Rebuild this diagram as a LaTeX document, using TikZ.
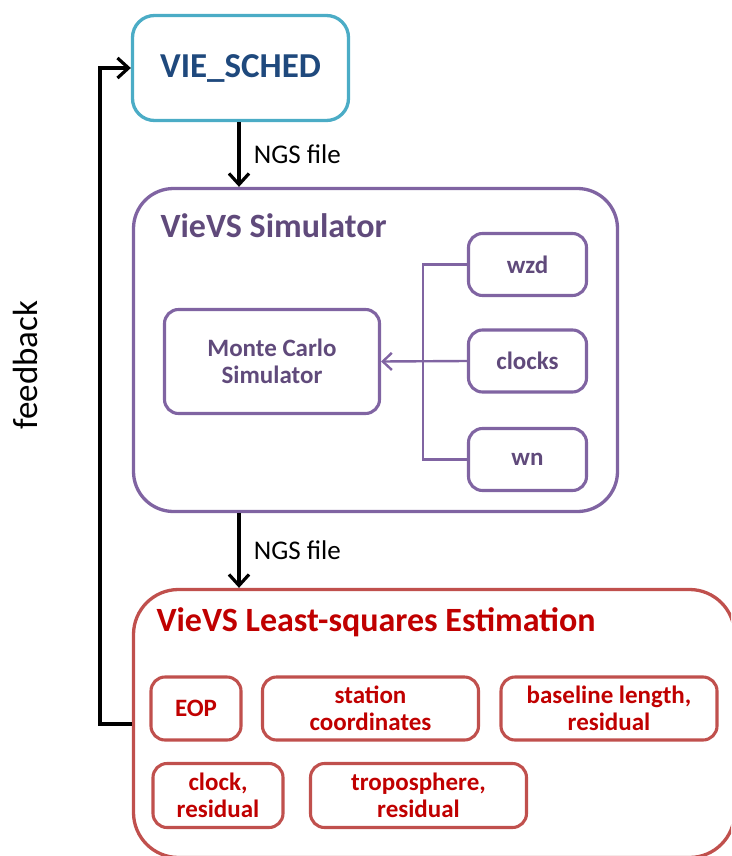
\documentclass[tikz,border=0pt]{standalone}
\usepackage{fontspec}
\setmainfont{Carlito}
\usetikzlibrary{arrows.meta,positioning,calc}

\definecolor{schedline}{RGB}{75,172,198}
\definecolor{schedtext}{RGB}{31,73,125}
\definecolor{simline}{RGB}{128,100,162}
\definecolor{simtext}{RGB}{96,74,123}
\definecolor{lsqline}{RGB}{192,80,77}
\definecolor{lsqtext}{RGB}{192,0,0}

\begin{document}
\begin{tikzpicture}[x=1pt, y=-1pt,
    outerbox/.style={draw, line width=3.3pt, rounded corners=40pt, inner sep=0pt},
    innerbox/.style={draw, line width=3.1pt, rounded corners=14pt, align=center,
        inner sep=0pt, font=\fontsize{25}{27}\selectfont\bfseries},
    flow/.style={line width=3.2pt, -{Straight Barb[length=11pt, width=20pt, line width=3.2pt]}},
    title/.style={anchor=west, font=\fontsize{34}{36}\selectfont\bfseries},
    filelabel/.style={anchor=west, font=\fontsize{27}{29}\selectfont}]
    \useasboundingbox (0,0) rectangle (731,856);
    \clip (0,0) rectangle (731,856);

    % Scheduler
    \node[outerbox, draw=schedline, rounded corners=22pt, minimum width=216pt,
        minimum height=105pt, text=schedtext,
        font=\fontsize{35}{37}\selectfont\bfseries] (sched) at (240.5,68) {VIE\_SCHED};

    % Simulator
    \node[outerbox, draw=simline, minimum width=484pt, minimum height=323pt] (sim) at (375.5,350) {};
    \node[title, text=simtext] (simtitle) at (157,226) {VieVS Simulator};
    \node[innerbox, draw=simline, text=simtext, minimum width=215pt, minimum height=104pt] (mc) at (272,361.5) {Monte Carlo\\Simulator};
    \node[innerbox, draw=simline, text=simtext, minimum width=118pt, minimum height=62pt] (wzd) at (527.5,264.5) {wzd};
    \node[innerbox, draw=simline, text=simtext, minimum width=118pt, minimum height=62pt] (clocks) at (527.5,361) {clocks};
    \node[innerbox, draw=simline, text=simtext, minimum width=118pt, minimum height=62pt] (wn) at (527.5,459.5) {wn};
    \coordinate (bus) at (423,361);
    \draw[simline, line width=2.4pt] (wzd.west) -| (bus) |- (wn.west);
    \draw[simline, line width=2.4pt, -{Straight Barb[length=9pt, width=17pt, line width=2.4pt]}] (clocks.west) -- (mc.east);

    % Estimation
    \node[outerbox, draw=lsqline, rounded corners=45pt, minimum width=601pt, minimum height=268pt] (lsq) at (434,723.5) {};
    \node[title, text=lsqtext] (lsqtitle) at (153,622) {VieVS Least-squares Estimation};
    \node[innerbox, draw=lsqline, text=lsqtext, minimum width=90pt, minimum height=63pt] (eop) at (196,708.5) {EOP};
    \node[innerbox, draw=lsqline, text=lsqtext, minimum width=216pt, minimum height=63pt] (sta) at (370.5,708.5) {station\\coordinates};
    \node[innerbox, draw=lsqline, text=lsqtext, minimum width=216pt, minimum height=63pt] (bsl) at (609,708.5) {baseline length,\\residual};
    \node[innerbox, draw=lsqline, text=lsqtext, minimum width=130pt, minimum height=64pt] (clk) at (218,795.5) {clock,\\residual};
    \node[innerbox, draw=lsqline, text=lsqtext, minimum width=216pt, minimum height=64pt] (tro) at (418.5,795.5) {troposphere,\\residual};

    % Data flow
    \draw[flow] (sched.south -| 239,0) -- (sim.north -| 239,0) node[filelabel, midway, xshift=10pt] {NGS file};
    \draw[flow] (sim.south -| 239,0) -- (lsq.north -| 239,0) node[filelabel, midway, xshift=10pt] {NGS file};

    % Feedback
    \coordinate (fb) at (100,724);
    \draw[flow] (lsq.west |- fb) -- (fb) |- (sched.west);
    \node[rotate=90, font=\fontsize{35}{37}\selectfont] (fblabel) at (25,365) {feedback};
\end{tikzpicture}
\end{document}
